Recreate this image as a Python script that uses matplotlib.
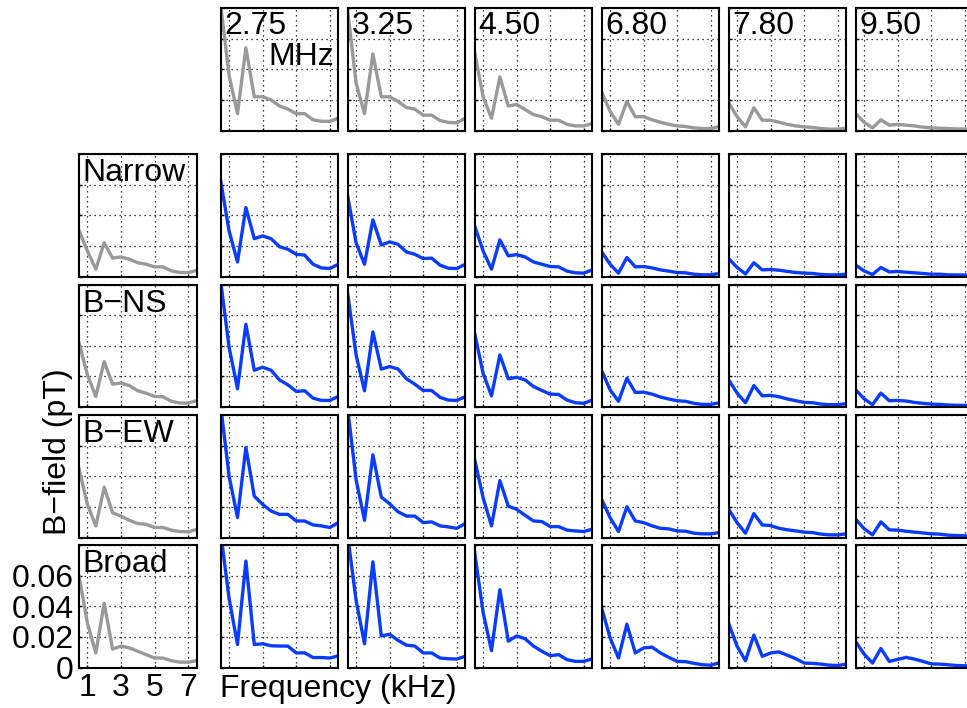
import matplotlib
matplotlib.use('Agg')
import matplotlib.pyplot as plt

plt.rcParams.update({'font.family': 'Liberation Sans', 'font.size': 23,
                     'axes.linewidth': 1.5})

W, H = 967, 708
GRAY = '#999999'
BLUE = '#0a3cff'

freq_khz = [0.5, 1.0, 1.5, 2.0, 2.5, 3.0, 3.5, 4.0, 4.5, 5.0, 5.5, 6.0, 6.5, 7.0, 7.5]
mhz_labels = ['2.75', '3.25', '4.50', '6.80', '7.80', '9.50']
row_labels = ['Narrow', 'B\u2212NS', 'B\u2212EW', 'Broad']

# gray reference spectra, one per MHz band (top row)
ref_by_band = [
    [0.082, 0.036, 0.011, 0.054, 0.022, 0.022, 0.020, 0.016, 0.014, 0.011, 0.011, 0.007, 0.006, 0.006, 0.008],
    [0.078, 0.031, 0.011, 0.050, 0.022, 0.022, 0.019, 0.015, 0.014, 0.010, 0.010, 0.0065, 0.0053, 0.005, 0.008],
    [0.051, 0.022, 0.008, 0.035, 0.016, 0.017, 0.0137, 0.0104, 0.009, 0.0067, 0.0067, 0.004, 0.003, 0.003, 0.0045],
    [0.025, 0.0126, 0.004, 0.019, 0.009, 0.009, 0.007, 0.0054, 0.004, 0.003, 0.0026, 0.0017, 0.0013, 0.0013, 0.0024],
    [0.018, 0.009, 0.0024, 0.0148, 0.0067, 0.0067, 0.0054, 0.004, 0.003, 0.0024, 0.002, 0.0013, 0.0009, 0.0009, 0.0015],
    [0.011, 0.0054, 0.0017, 0.007, 0.0035, 0.004, 0.0035, 0.003, 0.0022, 0.0017, 0.0015, 0.0013, 0.001, 0.001, 0.001],
]

# gray reference spectra, one per antenna (left column)
ref_by_antenna = [
    [0.030, 0.0167, 0.0048, 0.022, 0.012, 0.0128, 0.0113, 0.009, 0.008, 0.0063, 0.0063, 0.0037, 0.0026, 0.0026, 0.0039],
    [0.042, 0.021, 0.0069, 0.0296, 0.0149, 0.0156, 0.014, 0.0106, 0.009, 0.0069, 0.0067, 0.0037, 0.0026, 0.0026, 0.0041],
    [0.045, 0.0216, 0.0076, 0.0328, 0.0162, 0.014, 0.0112, 0.0091, 0.0086, 0.0065, 0.0065, 0.0048, 0.0039, 0.0037, 0.0052],
    [0.060, 0.029, 0.0095, 0.042, 0.012, 0.014, 0.0128, 0.0106, 0.0084, 0.0062, 0.0062, 0.0044, 0.0035, 0.0035, 0.0044],
]

# measured spectra (blue), antenna x MHz band
narrow = [
    [0.0623, 0.0297, 0.0095, 0.045, 0.0247, 0.0265, 0.0247, 0.0195, 0.0178, 0.0145, 0.014, 0.008, 0.0056, 0.0052, 0.008],
    [0.0525, 0.022, 0.008, 0.037, 0.0206, 0.0226, 0.021, 0.016, 0.0145, 0.0117, 0.012, 0.0074, 0.0054, 0.0052, 0.008],
    [0.033, 0.0167, 0.0048, 0.0239, 0.0135, 0.0143, 0.0128, 0.0095, 0.008, 0.0065, 0.0063, 0.0035, 0.0024, 0.0022, 0.0043],
    [0.016, 0.008, 0.0022, 0.0124, 0.0063, 0.0065, 0.0056, 0.0043, 0.0035, 0.0026, 0.0024, 0.0015, 0.0011, 0.0011, 0.002],
    [0.0117, 0.0059, 0.0017, 0.009, 0.0043, 0.0046, 0.0041, 0.0033, 0.0026, 0.0022, 0.002, 0.0013, 0.0011, 0.0011, 0.0015],
    [0.0074, 0.0037, 0.0013, 0.0059, 0.003, 0.0033, 0.0028, 0.0024, 0.002, 0.0015, 0.0015, 0.0011, 0.001, 0.001, 0.001],
]
b_ns = [
    [0.082, 0.039, 0.0119, 0.054, 0.024, 0.026, 0.024, 0.0177, 0.0145, 0.0102, 0.0106, 0.0058, 0.0043, 0.0043, 0.0069],
    [0.074, 0.034, 0.0106, 0.049, 0.0248, 0.0264, 0.0248, 0.0184, 0.0149, 0.0108, 0.0108, 0.0063, 0.0045, 0.0043, 0.0067],
    [0.048, 0.022, 0.0073, 0.034, 0.0184, 0.0194, 0.0177, 0.0134, 0.0108, 0.0084, 0.0082, 0.0045, 0.0028, 0.0024, 0.0045],
    [0.0238, 0.0112, 0.0037, 0.0188, 0.0095, 0.0097, 0.0084, 0.0065, 0.0052, 0.0041, 0.0037, 0.0024, 0.0017, 0.0017, 0.0028],
    [0.0177, 0.0091, 0.0028, 0.014, 0.0073, 0.0076, 0.0067, 0.0052, 0.0041, 0.003, 0.0028, 0.0019, 0.0015, 0.0015, 0.0022],
    [0.0112, 0.0054, 0.0015, 0.0091, 0.0041, 0.0043, 0.0039, 0.003, 0.0024, 0.0019, 0.0017, 0.0013, 0.0011, 0.0011, 0.0011],
]
b_ew = [
    [0.086, 0.040, 0.013, 0.0588, 0.027, 0.0216, 0.0173, 0.0151, 0.0151, 0.0108, 0.0108, 0.0082, 0.0076, 0.0065, 0.0097],
    [0.084, 0.0378, 0.0112, 0.054, 0.0264, 0.022, 0.0168, 0.014, 0.014, 0.0097, 0.0102, 0.0076, 0.0069, 0.006, 0.0091],
    [0.0508, 0.026, 0.0076, 0.0372, 0.0205, 0.0184, 0.0145, 0.0108, 0.0104, 0.0071, 0.0071, 0.0048, 0.0043, 0.0039, 0.0054],
    [0.0248, 0.013, 0.0039, 0.0201, 0.0108, 0.0097, 0.0076, 0.006, 0.0056, 0.0043, 0.0041, 0.0028, 0.0024, 0.0024, 0.0032],
    [0.0184, 0.0097, 0.0028, 0.0156, 0.0082, 0.0078, 0.006, 0.005, 0.0043, 0.0035, 0.0032, 0.0022, 0.0017, 0.0017, 0.0024],
    [0.0119, 0.0058, 0.0017, 0.0102, 0.005, 0.0048, 0.0041, 0.0035, 0.003, 0.0024, 0.0022, 0.0015, 0.0013, 0.0011, 0.0013],
]
broad = [
    [0.088, 0.045, 0.015, 0.0695, 0.015, 0.0155, 0.0142, 0.014, 0.014, 0.0095, 0.0096, 0.0065, 0.0065, 0.0062, 0.0076],
    [0.086, 0.0438, 0.0155, 0.069, 0.0206, 0.0217, 0.0177, 0.0146, 0.014, 0.0095, 0.0095, 0.0062, 0.0057, 0.0055, 0.0073],
    [0.075, 0.036, 0.011, 0.0508, 0.0172, 0.0206, 0.0188, 0.014, 0.0106, 0.0077, 0.0084, 0.0051, 0.004, 0.004, 0.0057],
    [0.0387, 0.0194, 0.0062, 0.0283, 0.0095, 0.0128, 0.0133, 0.0095, 0.0066, 0.004, 0.0038, 0.0027, 0.0018, 0.0015, 0.0031],
    [0.0287, 0.0139, 0.0044, 0.0212, 0.0073, 0.0095, 0.0102, 0.008, 0.0057, 0.0029, 0.0027, 0.0022, 0.0015, 0.0013, 0.0022],
    [0.0168, 0.0088, 0.0029, 0.0124, 0.004, 0.0053, 0.0066, 0.0055, 0.004, 0.0024, 0.0022, 0.0018, 0.0013, 0.0011, 0.0011],
]
measured = [narrow, b_ns, b_ew, broad]

# panel geometry in pixels
col_left = [79, 220.7, 347.7, 474.7, 601.7, 728.7, 855.7]
row_top = [8, 154, 284.5, 415, 545]
pw, ph = 117.5, 122.5

fig = plt.figure(figsize=(W / 100, H / 100), dpi=100)


def panel(r, c):
    x0, y0 = col_left[c], row_top[r]
    ax = fig.add_axes([x0 / W, 1 - (y0 + ph) / H, pw / W, ph / H])
    ax.set_xlim(0.5, 7.5)
    ax.set_ylim(0, 0.08)
    ax.set_xticks([1, 3, 5, 7])
    ax.set_yticks([0, 0.02, 0.04, 0.06, 0.08])
    ax.grid(True, color='black', ls=(0, (1, 3)), lw=0.9)
    ax.tick_params(direction='in', length=2.5, width=1, labelleft=False, labelbottom=False)
    for s in ax.spines.values():
        s.set_linewidth(1.5)
    return ax


# top row: reference per band
for j, (lab, y) in enumerate(zip(mhz_labels, ref_by_band)):
    ax = panel(0, j + 1)
    ax.plot(freq_khz, y, color=GRAY, lw=2.4)
    ax.text(4 / pw, 1 - 3 / ph, lab, transform=ax.transAxes, ha='left', va='top')
    if j == 0:
        ax.text(1 - 4 / pw, 1 - 34 / ph, 'MHz', transform=ax.transAxes, ha='right', va='top')

# left column: reference per antenna; interior: measured
for i, lab in enumerate(row_labels):
    ax = panel(i + 1, 0)
    ax.plot(freq_khz, ref_by_antenna[i], color=GRAY, lw=2.4)
    ax.text(3 / pw, 1 - 4 / ph, lab, transform=ax.transAxes, ha='left', va='top')
    if i == 3:
        ax.set_yticklabels(['0', '0.02', '0.04', '0.06', ''])
        ax.tick_params(labelleft=True, labelbottom=True, pad=4)
    for j in range(6):
        axm = panel(i + 1, j + 1)
        axm.plot(freq_khz, measured[i][j], color=BLUE, lw=2.4)

fig.text(220 / W, 1 - 689 / H, 'Frequency (kHz)', ha='left', va='center')
fig.text(58 / W, 1 - 452 / H, 'B\u2212field (pT)', ha='center', va='center', rotation=90)

fig.savefig('out.png', dpi=100)
